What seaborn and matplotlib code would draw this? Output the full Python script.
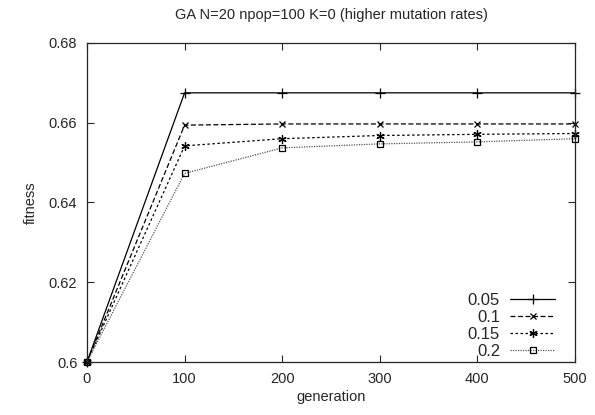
import pandas as pd
import seaborn as sns
import matplotlib
matplotlib.use("Agg")
import matplotlib.pyplot as plt

generation = [0, 100, 200, 300, 400, 500]
rates = ["0.05", "0.1", "0.15", "0.2"]
fit_005 = [0.6, 0.6675, 0.6675, 0.6675, 0.6675, 0.6675]
fit_01 = [0.6, 0.6594, 0.6597, 0.6597, 0.6597, 0.6597]
fit_015 = [0.6, 0.6542, 0.6560, 0.6568, 0.6571, 0.6573]
fit_02 = [0.6, 0.6473, 0.6537, 0.6547, 0.6552, 0.6560]

yticks = [0.6, 0.62, 0.64, 0.66, 0.68]
ytick_labels = ["0.6", "0.62", "0.64", "0.66", "0.68"]

sns.set_style("ticks")
plt.rcParams["font.family"] = ["Liberation Sans", "DejaVu Sans"]
plt.rcParams["font.size"] = 10

estilos = [
    (fit_005, "-", "+", 7, "black"),
    (fit_01, (0, (4, 2)), "x", 5, "black"),
    (fit_015, (0, (2, 2)), (6, 2, 0), 6, "black"),
    (fit_02, (0, (1, 1)), "s", 5, "#555555"),
]

fig = plt.figure(figsize=(5.95, 4.15), dpi=100)
ax = fig.add_axes([0.1462, 0.1277, 0.8202, 0.7687])

for rate, (vals, ls, mk, ms, cor) in zip(rates, estilos):
    dados = pd.DataFrame({"generation": generation, "fitness": vals})
    sns.lineplot(data=dados, x="generation", y="fitness", ax=ax, label=rate,
                 color=cor, linestyle=ls, linewidth=0.9, marker=mk, markersize=ms,
                 markerfacecolor="none", markeredgecolor="black", markeredgewidth=0.9,
                 clip_on=False)

ax.set_xlim(0, 500)
ax.set_ylim(0.6, 0.68)
ax.set_xticks(generation)
ax.set_yticks(yticks)
ax.set_yticklabels(ytick_labels)
ax.tick_params(direction="in", top=True, right=True, length=5, width=0.8, pad=7,
               labelsize=10.5)
for s in ax.spines.values():
    s.set_linewidth(0.9)
    s.set_visible(True)

ax.set_title("GA N=20 npop=100 K=0 (higher mutation rates)", fontsize=10.5, pad=17)
ax.set_xlabel("generation", fontsize=10.5, labelpad=3)
ax.set_ylabel("fitness", fontsize=10.5, labelpad=8)

ax.legend(loc="lower right", markerfirst=False, frameon=False, fontsize=12,
          handlelength=2.7, labelspacing=0.12, handletextpad=0.6,
          borderpad=0.2, borderaxespad=0.0, bbox_to_anchor=(0.966, 0.0))

fig.savefig("out.png", dpi=100)
